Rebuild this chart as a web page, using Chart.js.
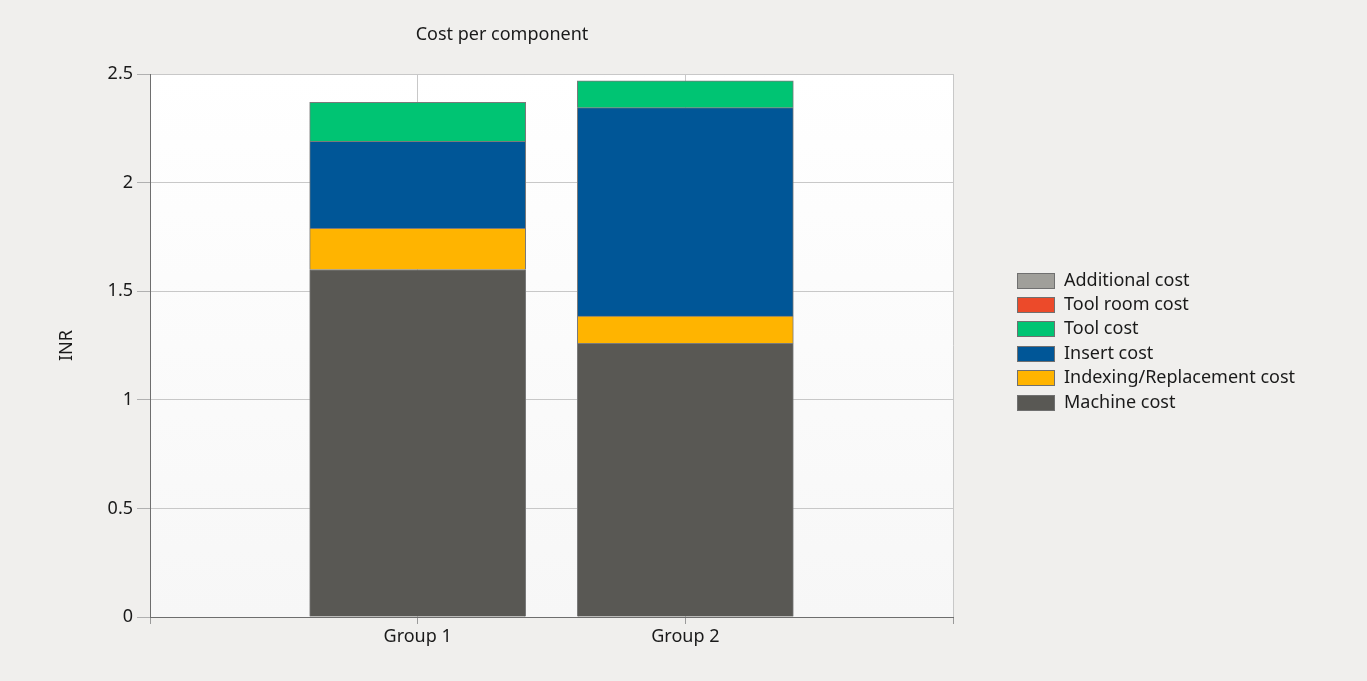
<!DOCTYPE html>
<html>
<head>
<meta charset="utf-8">
<title>Cost per component</title>
<script src="https://cdn.jsdelivr.net/npm/chart.js@4.4.1/dist/chart.umd.min.js"></script>
<style>
    body { margin: 0; background: #f0efed; }
</style>
</head>
<body>
<canvas id="costChart" width="1367" height="681"></canvas>
<script>
const groups = ['Group 1', 'Group 2'];
const machineCost = [1.60, 1.26];
const indexingCost = [0.19, 0.125];
const insertCost = [0.40, 0.96];
const toolCost = [0.18, 0.123];
const toolRoomCost = [0, 0];
const additionalCost = [0, 0];
const yTicks = [0, 0.5, 1, 1.5, 2, 2.5];

const fontFamily = '"Noto Sans", "Open Sans", sans-serif';
const textColor = '#1a1a1a';

// empty slot either side so the two groups sit at 1/3 and 2/3 of the axis
const labels = ['', ...groups, ''];
const pad = (arr) => [null, ...arr, null];

const plotBackground = {
    id: 'plotBackground',
    beforeDraw(chart) {
        const { ctx, chartArea: a } = chart;
        ctx.save();
        ctx.fillStyle = '#f0efed';
        ctx.fillRect(0, 0, chart.width, chart.height);
        const g = ctx.createLinearGradient(0, a.top, 0, a.bottom);
        g.addColorStop(0, '#ffffff');
        g.addColorStop(1, '#f7f7f7');
        ctx.fillStyle = g;
        ctx.fillRect(a.left, a.top, a.right - a.left, a.bottom - a.top);
        ctx.restore();
    }
};

const sideLegend = {
    id: 'sideLegend',
    afterDraw(chart) {
        const { ctx, chartArea: a } = chart;
        const sets = chart.data.datasets.slice().reverse();
        const rowH = 24.4;
        const x = a.right + 64;
        const y0 = (a.top + a.bottom) / 2 - 4 - rowH * (sets.length - 1) / 2;
        ctx.save();
        ctx.font = '18px ' + fontFamily;
        ctx.textBaseline = 'middle';
        sets.forEach((ds, i) => {
            const y = Math.round(y0 + i * rowH);
            ctx.fillStyle = ds.backgroundColor;
            ctx.fillRect(x, y - 8, 38, 16);
            ctx.strokeStyle = '#707070';
            ctx.lineWidth = 1;
            ctx.strokeRect(x + 0.5, y - 7.5, 37, 15);
            ctx.fillStyle = textColor;
            ctx.fillText(ds.label, x + 47, y);
        });
        ctx.restore();
    }
};

const ctx = document.getElementById('costChart').getContext('2d');

let costChart = new Chart(ctx, {
    type: 'bar',
    data: {
        labels: labels,
        datasets: [
            { label: 'Machine cost', data: pad(machineCost), backgroundColor: '#595854' },
            { label: 'Indexing/Replacement cost', data: pad(indexingCost), backgroundColor: '#ffb400' },
            { label: 'Insert cost', data: pad(insertCost), backgroundColor: '#005697' },
            { label: 'Tool cost', data: pad(toolCost), backgroundColor: '#00c473' },
            { label: 'Tool room cost', data: pad(toolRoomCost), backgroundColor: '#ec4a2a' },
            { label: 'Additional cost', data: pad(additionalCost), backgroundColor: '#a09f9a' }
        ].map((ds) => Object.assign(ds, {
            borderColor: '#7a7a7a',
            borderWidth: 1,
            barThickness: 216
        }))
    },
    options: {
        responsive: false,
        devicePixelRatio: 1,
        animation: false,
        layout: {
            padding: { left: 51, right: 414, top: 20, bottom: 0 }
        },
        plugins: {
            legend: { display: false },
            tooltip: { enabled: false },
            title: {
                display: true,
                text: 'Cost per component',
                color: textColor,
                font: { family: fontFamily, size: 18, weight: 'normal' },
                padding: { top: 4, bottom: 28.4 }
            }
        },
        scales: {
            x: {
                stacked: true,
                offset: false,
                afterFit(axis) { axis.height = 64; },
                border: { color: '#6e6e6e', width: 1 },
                grid: { offset: false, color: '#c8c8c8', tickColor: '#9a9a9a', tickLength: 7 },
                ticks: {
                    autoSkip: false,
                    maxRotation: 0,
                    padding: 2,
                    color: textColor,
                    font: { family: fontFamily, size: 18 }
                }
            },
            y: {
                stacked: true,
                min: yTicks[0],
                max: yTicks[yTicks.length - 1],
                afterFit(axis) { axis.width = 99; },
                border: { color: '#6e6e6e', width: 1 },
                grid: { color: '#c8c8c8', tickColor: '#b0b0b0', tickLength: 13 },
                ticks: {
                    stepSize: yTicks[1] - yTicks[0],
                    padding: 4,
                    color: textColor,
                    font: { family: fontFamily, size: 18 },
                    callback: (value) => String(value)
                },
                title: {
                    display: true,
                    text: 'INR',
                    color: textColor,
                    font: { family: fontFamily, size: 18 },
                    padding: { top: 5, bottom: 0 }
                }
            }
        }
    },
    plugins: [plotBackground, sideLegend]
});
</script>
</body>
</html>
